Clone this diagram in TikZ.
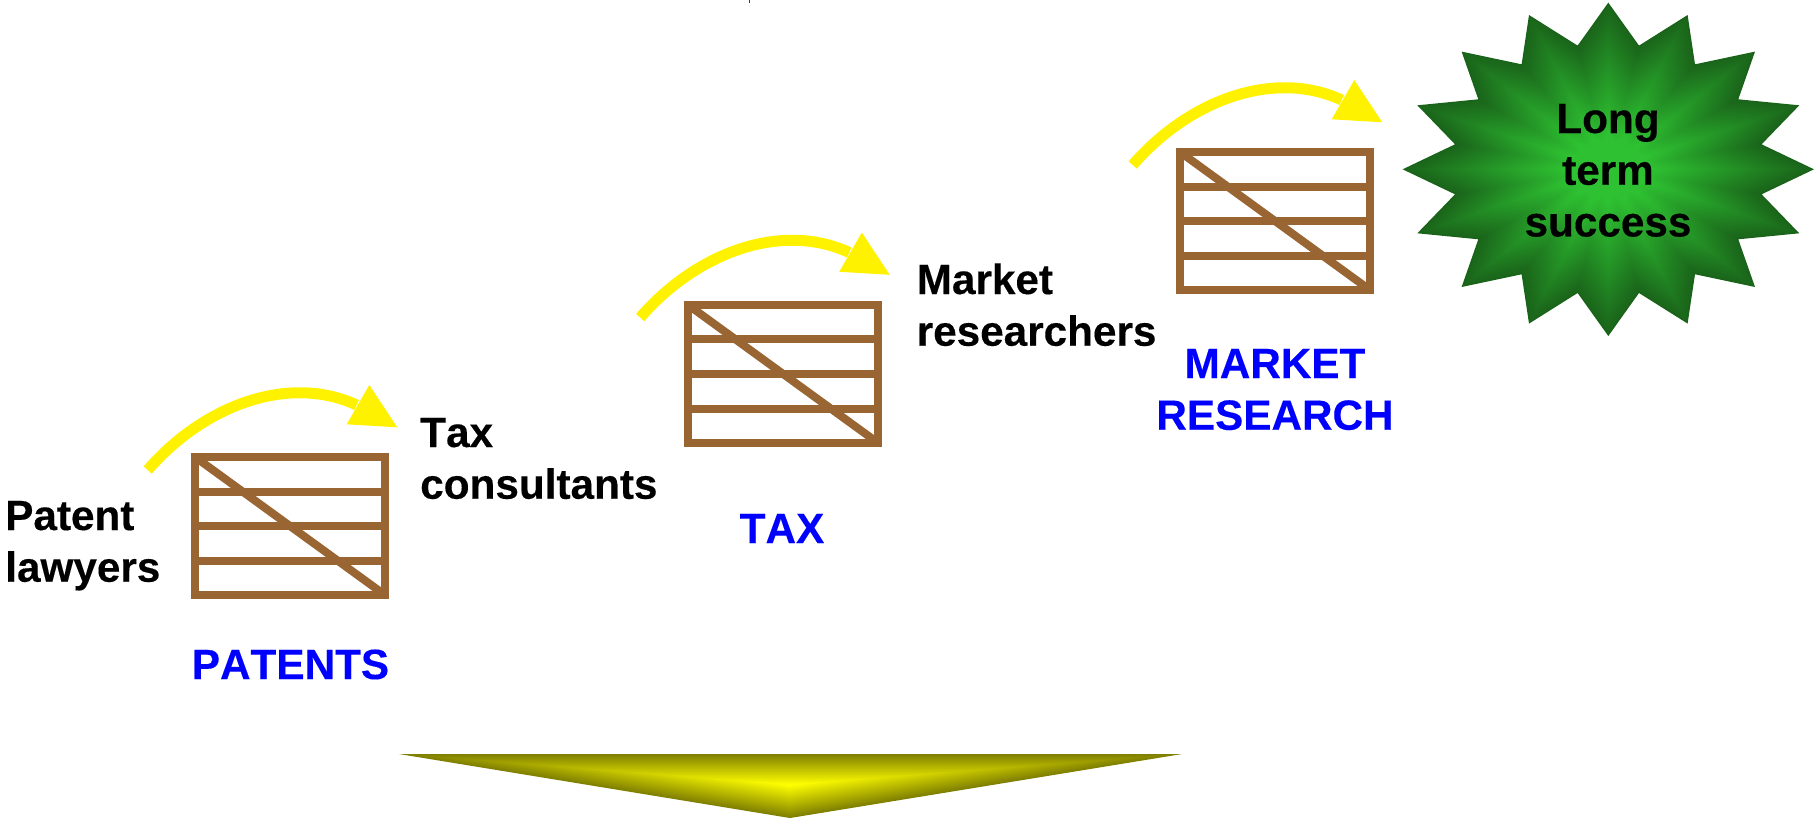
\documentclass[tikz,border=0pt]{standalone}
\usepackage{fontspec}
\setmainfont[Kerning=Off,BoldFeatures={FakeBold=0.25}]{Liberation Sans}
\newcommand{\linesL}[1]{\vtop{\halign{##\hfil\cr #1\crcr}}}
\newcommand{\linesC}[1]{\vtop{\halign{\hfil##\hfil\cr #1\crcr}}}
\newcommand{\starshape}{(0,-166.7)--(30.7,-123.7)--(79.3,-154.3)--(86.7,-105)--(146.7,-117.7)--(130,-70)--(191,-64)--(153.3,-25)--(205.7,0)--(153.3,25)--(191,64)--(130,70)--(146.7,117.7)--(86.7,105)--(79.3,154.3)--(30.7,123.7)--(0,166.7)--(-30.7,123.7)--(-79.3,154.3)--(-86.7,105)--(-146.7,117.7)--(-130,70)--(-191,64)--(-153.3,25)--(-205.7,0)--(-153.3,-25)--(-191,-64)--(-130,-70)--(-146.7,-117.7)--(-86.7,-105)--(-79.3,-154.3)--(-30.7,-123.7)--cycle}
\newcommand{\wedgeshape}{(-391,-31)--(392,-31)--(0,33)--cycle}
\definecolor{fencebrown}{RGB}{153,102,51}
\definecolor{starbright}{RGB}{46,194,50}
\definecolor{stardark}{RGB}{26,100,26}
\definecolor{wedgebright}{RGB}{255,255,0}
\definecolor{wedgedark}{RGB}{128,128,0}
\definecolor{labelblue}{RGB}{0,0,255}
\definecolor{ticktone}{RGB}{90,50,10}
\tikzset{
  x=0.75pt,y=-0.75pt,
  txt/.style={inner sep=0pt,font=\fontsize{31.7}{38.8}\selectfont\bfseries,text=black},
  lbl/.style={txt,text=labelblue},
  fence/.style={draw=fencebrown,line width=6pt},
  sweep/.style={draw=yellow,line width=8.25pt},
  sweephead/.style={fill=yellow,draw=none}
}
\begin{document}
\begin{tikzpicture}
\useasboundingbox (0,0) rectangle (1814,819);
% tick at top
\draw[ticktone,line width=0.9pt] (749.3,0) -- (749.3,3);
% fences and curved arrows
\foreach \n/\dx/\dy in {1/0/0,2/492.5/-152.5,3/985/-305}{
  \begin{scope}[shift={(\dx,\dy)}]
    \draw[fence] (195,457) rectangle (385,595);
    \draw[fence] (195,491.7) -- (385,491.7);
    \draw[fence] (195,526.3) -- (385,526.3);
    \draw[fence] (195,561) -- (385,561);
    \draw[fence] (195,457) -- (385,595);
    \coordinate (s\n) at (147.7,470);
    \coordinate (e\n) at (356.7,405);
    \draw[sweep] (s\n) .. controls (205,404) and (290,374) .. (e\n);
    \fill[sweephead] (369.3,385) -- (397.3,427.3) -- (346.7,424.3) -- cycle;
  \end{scope}
}
% star with path gradient
\foreach \i in {0,...,48}{
  \pgfmathsetmacro{\p}{100*(\i/48)^1.0}
  \pgfmathsetmacro{\s}{1-\i/49}
  \pgfmathsetmacro{\q}{min(100,\p*1.25)}
  \fill[starbright!\q!stardark,shift={(1608.3,169.3)},scale=\s] \starshape;
}
% wedge with path gradient
\foreach \i in {0,...,40}{
  \pgfmathsetmacro{\p}{100*\i/40}
  \pgfmathsetmacro{\s}{1-\i/41}
  \fill[wedgebright!\p!wedgedark,shift={(790,785)},scale=\s] \wedgeshape;
}
% texts
\node[txt,anchor=base] (goal) at (1608,133) {\linesC{Long\cr term\cr success}};
\node[txt,anchor=base west] (pl) at (5,530) {\linesL{Patent\cr lawyers}};
\node[txt,anchor=base west] (tc) at (420,447) {\linesL{Tax\cr consultants}};
\node[txt,anchor=base west] (mr) at (916.5,294) {\linesL{Market\cr researchers}};
\node[lbl,anchor=base] (patents) at (290.5,679) {PATENTS};
\node[lbl,anchor=base] (tax) at (782,543) {TAX};
\node[lbl,anchor=base] (market) at (1275,378) {\linesC{MARKET\cr RESEARCH}};
\end{tikzpicture}
\end{document}
